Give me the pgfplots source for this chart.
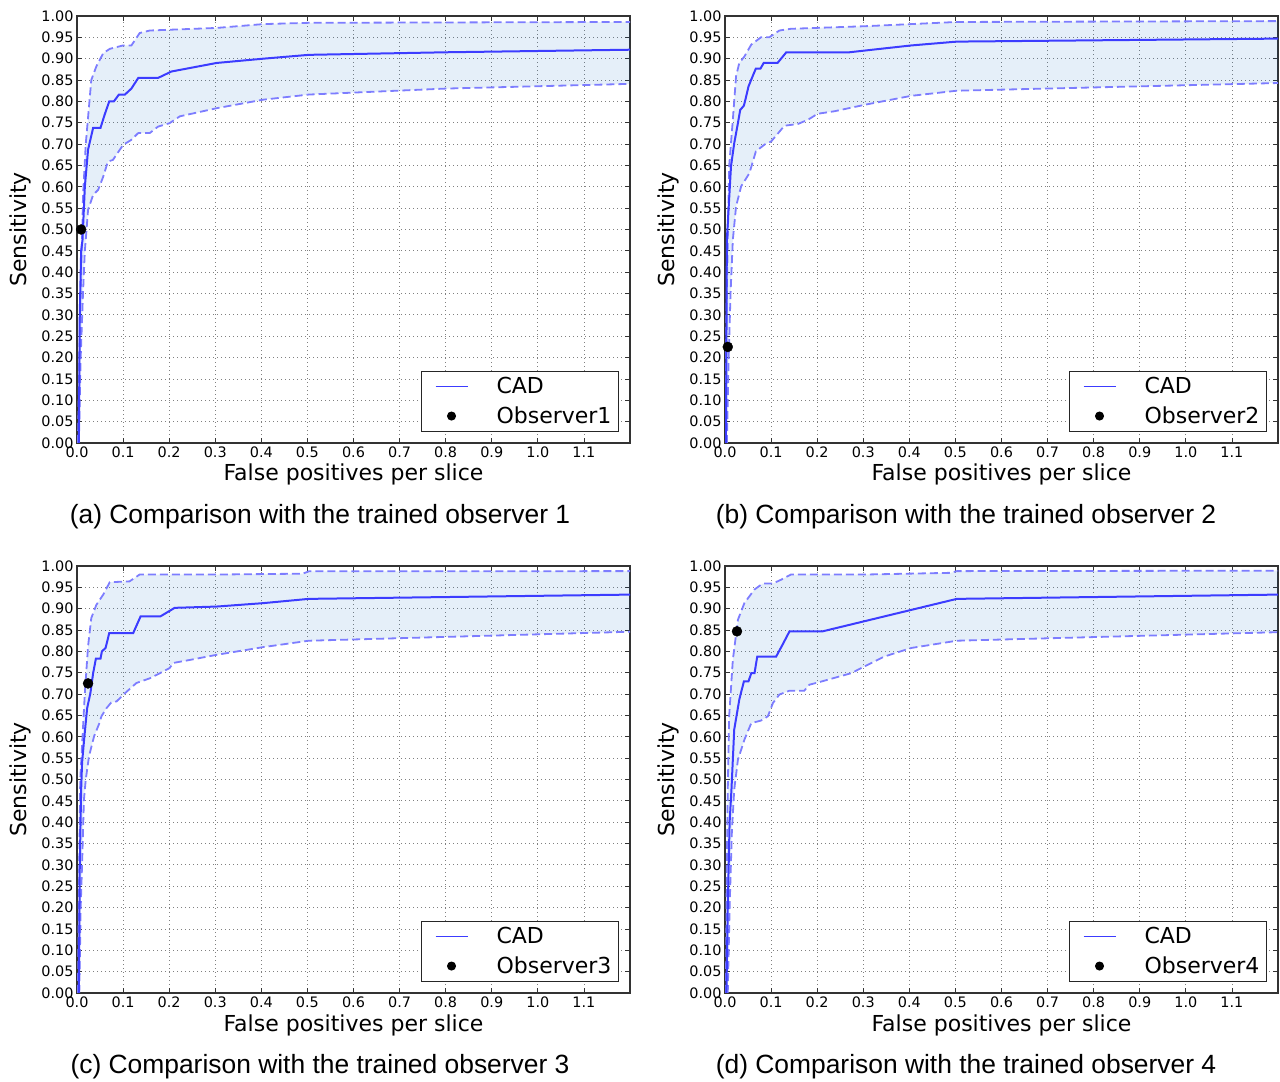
\documentclass[border=0pt]{standalone}
\usepackage{fontspec}
\setmainfont{DejaVu Sans}
\newfontfamily\capfont{Liberation Sans}
\usepackage{pgfplots}
\pgfplotsset{compat=1.18}
\usepgfplotslibrary{fillbetween}

\definecolor{cadblue}{RGB}{60,60,255}
\definecolor{bandline}{RGB}{125,125,255}
\definecolor{bandfill}{RGB}{0,100,200}

\pgfplotsset{
  frocax/.style={
    scale only axis, width=553bp, height=427bp,
    xmin=0, xmax=1.2, ymin=0, ymax=1,
    xtick={0,0.1,0.2,0.3,0.4,0.5,0.6,0.7,0.8,0.9,1.0,1.1},
    ytick={0,0.05,0.1,0.15,0.2,0.25,0.3,0.35,0.4,0.45,0.5,0.55,0.6,0.65,0.7,0.75,0.8,0.85,0.9,0.95,1.0},
    set layers,
    grid=major,
    grid style={black!50, line width=0.8bp, dash pattern=on 1bp off 3bp},
    axis line style={black!80, line width=1.2bp},
    tick style={black!80, line width=0.8bp},
    tick align=inside, major tick length=5bp,
    /pgf/number format/assume math mode=true,
    ticklabel style={font=\fontsize{14.4bp}{17bp}\selectfont},
    xticklabel style={/pgf/number format/fixed, /pgf/number format/fixed zerofill, /pgf/number format/precision=1},
    yticklabel style={/pgf/number format/fixed, /pgf/number format/fixed zerofill, /pgf/number format/precision=2},
    label style={font=\fontsize{22bp}{26bp}\selectfont},
    xlabel={False positives per slice},
    ylabel={Sensitivity},
    xlabel style={at={(axis description cs:0.5,-0.089)}, anchor=base},
    ylabel style={at={(axis description cs:-0.092,0.5)}, anchor=base},
    legend cell align=left,
    legend style={at={(axis description cs:0.98,0.026)}, anchor=south east,
      draw=black!85, line width=1bp, fill=white, inner xsep=4bp, inner ysep=3bp,
      font=\fontsize{22bp}{26bp}\selectfont, row sep=5bp,
      nodes={inner sep=3bp, text depth=0.2em}},
  },
  band/.style={bandline, line width=1.8bp, dash pattern=on 8bp off 4bp, forget plot},
  cad/.style={cadblue, line width=2bp,
    legend image code/.code={\path[draw=none, fill=none] (0bp,-5bp) rectangle (68bp,5bp);
      \draw[cadblue, line width=1.2bp] (10bp,0bp) -- (42bp,0bp);}},
  obs/.style={only marks, mark=*, mark size=5bp, black,
    legend image code/.code={\path[draw=none, fill=none] (0bp,-5bp) rectangle (68bp,5bp);
      \fill[black] (26bp,0bp) circle (4bp);}},
  shade/.style={fill=bandfill, fill opacity=0.1, draw=none, forget plot},
}

\begin{document}
\begin{tikzpicture}

% (a)
\begin{axis}[frocax, at={(77bp,636bp)}, anchor=south west]
\addplot[band, name path=up] coordinates {(0.002,0) (0.006,0.25) (0.01,0.45) (0.011,0.476) (0.013,0.577) (0.019,0.70) (0.031,0.85) (0.042,0.882) (0.057,0.913) (0.071,0.923) (0.1,0.931) (0.118,0.931) (0.136,0.96) (0.158,0.966) (0.303,0.972) (0.404,0.981) (0.503,0.984) (1.2,0.986)};
\addplot[band, name path=lo] coordinates {(0.004,0) (0.008,0.2) (0.013,0.35) (0.017,0.45) (0.019,0.476) (0.024,0.546) (0.035,0.581) (0.046,0.593) (0.057,0.624) (0.067,0.659) (0.078,0.663) (0.1,0.698) (0.118,0.71) (0.133,0.726) (0.158,0.726) (0.176,0.741) (0.201,0.749) (0.223,0.765) (0.303,0.784) (0.404,0.804) (0.503,0.816) (0.8,0.83) (1.2,0.841)};
\addplot[shade] fill between[of=up and lo];
\addplot[cad] coordinates {(0.004,0) (0.006,0.3) (0.009,0.45) (0.012,0.476) (0.017,0.60) (0.024,0.687) (0.035,0.738) (0.051,0.738) (0.06,0.769) (0.07,0.80) (0.08,0.80) (0.091,0.816) (0.104,0.816) (0.118,0.83) (0.133,0.855) (0.176,0.855) (0.205,0.87) (0.303,0.89) (0.404,0.90) (0.503,0.909) (0.8,0.915) (1.2,0.921)};
\addplot[obs] coordinates {(0.009,0.50)};
\legend{CAD, Observer1}
\end{axis}

% (b)
\begin{axis}[frocax, at={(725bp,636bp)}, anchor=south west]
\addplot[band, name path=up] coordinates {(0.001,0) (0.003,0.3) (0.006,0.476) (0.009,0.648) (0.017,0.757) (0.024,0.859) (0.031,0.89) (0.042,0.905) (0.057,0.933) (0.078,0.95) (0.096,0.95) (0.118,0.966) (0.143,0.97) (0.303,0.976) (0.404,0.981) (0.503,0.986) (1.2,0.988)};
\addplot[band, name path=lo] coordinates {(0.004,0) (0.008,0.2) (0.012,0.35) (0.017,0.476) (0.024,0.554) (0.035,0.601) (0.053,0.632) (0.067,0.683) (0.086,0.699) (0.1,0.706) (0.129,0.743) (0.158,0.747) (0.18,0.757) (0.201,0.771) (0.238,0.777) (0.303,0.792) (0.404,0.813) (0.503,0.825) (1.2,0.843)};
\addplot[shade] fill between[of=up and lo];
\addplot[cad] coordinates {(0.002,0) (0.003,0.2) (0.004,0.476) (0.013,0.648) (0.02,0.702) (0.028,0.749) (0.033,0.78) (0.041,0.79) (0.046,0.812) (0.051,0.835) (0.06,0.859) (0.067,0.877) (0.077,0.877) (0.084,0.89) (0.114,0.89) (0.133,0.915) (0.27,0.915) (0.303,0.919) (0.404,0.931) (0.503,0.94) (1.2,0.947)};
\addplot[obs] coordinates {(0.006,0.225)};
\legend{CAD, Observer2}
\end{axis}

% (c)
\begin{axis}[frocax, at={(77bp,86bp)}, anchor=south west]
\addplot[band, name path=up] coordinates {(0.002,0) (0.005,0.3) (0.007,0.5) (0.012,0.6) (0.017,0.702) (0.024,0.812) (0.031,0.878) (0.042,0.909) (0.057,0.933) (0.071,0.962) (0.114,0.964) (0.136,0.98) (0.303,0.98) (0.49,0.982) (0.503,0.9875) (1.2,0.988)};
\addplot[band, name path=lo] coordinates {(0.005,0) (0.008,0.2) (0.011,0.3) (0.015,0.452) (0.019,0.5) (0.026,0.554) (0.037,0.601) (0.049,0.633) (0.053,0.648) (0.064,0.667) (0.074,0.68) (0.086,0.683) (0.104,0.702) (0.129,0.726) (0.158,0.737) (0.18,0.749) (0.201,0.761) (0.209,0.773) (0.245,0.78) (0.303,0.792) (0.404,0.81) (0.503,0.825) (1.2,0.846)};
\addplot[shade] fill between[of=up and lo];
\addplot[cad] coordinates {(0.004,0) (0.006,0.296) (0.009,0.476) (0.011,0.539) (0.016,0.60) (0.022,0.667) (0.029,0.702) (0.035,0.749) (0.041,0.783) (0.051,0.783) (0.054,0.80) (0.062,0.808) (0.07,0.843) (0.122,0.843) (0.138,0.882) (0.181,0.882) (0.212,0.902) (0.303,0.905) (0.404,0.913) (0.503,0.923) (1.2,0.933)};
\addplot[obs] coordinates {(0.024,0.725)};
\legend{CAD, Observer3}
\end{axis}

% (d)
\begin{axis}[frocax, at={(725bp,86bp)}, anchor=south west]
\addplot[band, name path=up] coordinates {(0.002,0) (0.004,0.3) (0.006,0.476) (0.009,0.648) (0.017,0.78) (0.028,0.874) (0.042,0.913) (0.064,0.945) (0.082,0.959) (0.104,0.959) (0.122,0.968) (0.143,0.98) (0.303,0.98) (0.49,0.984) (0.503,0.988) (1.2,0.989)};
\addplot[band, name path=lo] coordinates {(0.006,0) (0.01,0.2) (0.015,0.38) (0.02,0.476) (0.028,0.546) (0.042,0.593) (0.057,0.632) (0.078,0.638) (0.093,0.648) (0.104,0.679) (0.118,0.699) (0.14,0.708) (0.172,0.708) (0.183,0.722) (0.201,0.727) (0.274,0.749) (0.303,0.765) (0.346,0.788) (0.404,0.808) (0.503,0.825) (1.2,0.845)};
\addplot[shade] fill between[of=up and lo];
\addplot[cad] coordinates {(0.003,0) (0.006,0.2) (0.01,0.4) (0.014,0.476) (0.02,0.617) (0.031,0.687) (0.041,0.73) (0.051,0.73) (0.057,0.749) (0.064,0.749) (0.07,0.788) (0.111,0.788) (0.125,0.816) (0.14,0.847) (0.212,0.847) (0.503,0.923) (1.2,0.933)};
\addplot[obs] coordinates {(0.026,0.847)};
\legend{CAD, Observer4}
\end{axis}

\begin{scope}[every node/.style={font=\capfont\fontsize{26.4bp}{31bp}\selectfont, anchor=base}]
\node at (320bp,555bp) {(a) Comparison with the trained observer 1};
\node at (966bp,555bp) {(b) Comparison with the trained observer 2};
\node at (320bp,6bp) {(c) Comparison with the trained observer 3};
\node at (966bp,6bp) {(d) Comparison with the trained observer 4};
\end{scope}
\path (0,0) rectangle (1280bp,1079bp);
\end{tikzpicture}
\end{document}
